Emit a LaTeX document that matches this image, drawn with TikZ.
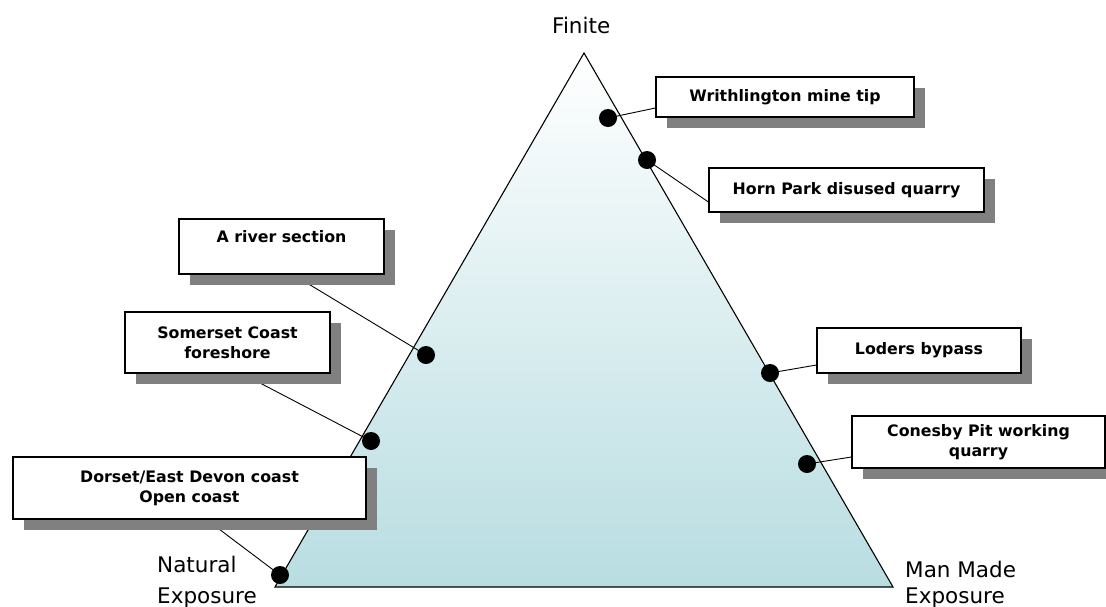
\documentclass[tikz,border=0pt]{standalone}
\usepackage{fontspec}
\setmainfont{DejaVu Sans}
\usetikzlibrary{shadows}
\definecolor{tealbot}{RGB}{184,221,225}
\definecolor{shadowgray}{RGB}{128,128,128}
\pgfdeclarelayer{back}
\pgfdeclarelayer{mid}
\pgfsetlayers{back,mid,main}
\begin{document}
\begin{tikzpicture}[x=1pt,y=-1pt,
  box/.style={draw=black, line width=1.2pt, fill=white, align=center, inner sep=0pt,
    font=\fontsize{15.8}{20}\selectfont\bfseries,
    drop shadow={shadow xshift=11pt,shadow yshift=-10.5pt,fill=shadowgray,opacity=1}},
  dot/.style={circle, fill=black, minimum size=18pt, inner sep=0pt},
  conn/.style={draw=black, line width=0.9pt},
  edge/.style={draw=black, line width=1.1pt, line join=miter},
  axlabel/.style={font=\fontsize{21.5}{26}\selectfont, anchor=base west, inner sep=0pt}]
\useasboundingbox (0,0) rectangle (1106,606);

% triangle
\coordinate (apex) at (584,53);
\coordinate (bl) at (275,587);
\coordinate (br) at (893,587);
\begin{pgfonlayer}{back}
  \fill[white] (0,0) rectangle (1106,606);
  \shade[top color=white, bottom color=tealbot] (bl) -- (apex) -- (br) -- cycle;
  \path[edge] (bl) -- (apex) -- (br) -- cycle;
\end{pgfonlayer}

% axis labels
\node[axlabel] (fin) at (552,33) {Finite};
\node[axlabel] (nat1) at (157,572) {Natural};
\node[axlabel] (nat2) at (157,603) {Exposure};
\node[axlabel] (man1) at (905,577) {Man Made};
\node[axlabel] (man2) at (905,603) {Exposure};

% boxes
\node[box, minimum width=258pt, minimum height=40pt] (b1) at (785,97) {Writhlington mine tip};
\node[box, minimum width=275pt, minimum height=44pt] (b2) at (846.5,190) {Horn Park disused quarry};
\node[box, minimum width=205pt, minimum height=55pt] (b3) at (281.5,246.5) {A river section\\\mbox{}};
\node[box, minimum width=205pt, minimum height=61pt] (b4) at (227.5,342.5) {Somerset Coast\\foreshore};
\node[box, minimum width=353pt, minimum height=62pt] (b5) at (189.5,488) {Dorset/East Devon coast\\Open coast};
\node[box, minimum width=204pt, minimum height=45pt] (b6) at (919,350.5) {Loders bypass};
\node[box, minimum width=253pt, minimum height=52pt] (b7) at (978.5,442) {Conesby Pit working\\quarry};

% dots
\node[dot] (d1) at (608,118) {};
\node[dot] (d2) at (647,160) {};
\node[dot] (d3) at (426,355) {};
\node[dot] (d4) at (371,441) {};
\node[dot] (d5) at (280,575) {};
\node[dot] (d6) at (770,373) {};
\node[dot] (d7) at (807,464) {};

% connectors
\begin{pgfonlayer}{mid}
  \path[conn] ([yshift=-11pt]b1.west) -- (d1.center);
  \path[conn] ([yshift=-12pt]b2.west) -- (d2.center);
  \path[conn] ([xshift=11.5pt]b3.south) -- (d3.center);
  \path[conn] ([xshift=14.5pt]b4.south) -- (d4.center);
  \path[conn] ([xshift=17pt]b5.south) -- (d5.center);
  \path[conn] ([yshift=-14.5pt]b6.west) -- (d6.center);
  \path[conn] ([yshift=-15pt]b7.west) -- (d7.center);
\end{pgfonlayer}
\end{tikzpicture}
\end{document}
